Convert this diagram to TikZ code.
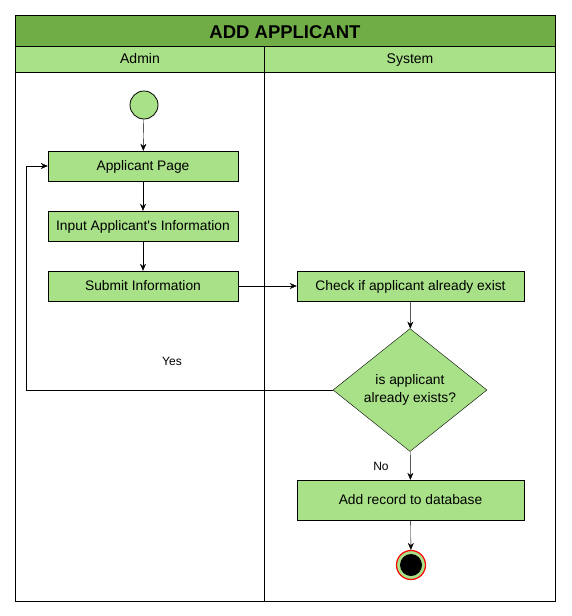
\documentclass[tikz,border=0pt]{standalone}
\usepackage{fontspec}
\setmainfont{Liberation Sans}
\usetikzlibrary{arrows.meta,shapes.geometric,positioning}

\definecolor{titlegreen}{HTML}{70AD47}
\definecolor{lightgreen}{HTML}{A9E188}

\tikzset{
  actionbox/.style={draw, fill=lightgreen, minimum width=190pt, minimum height=30pt, inner sep=1pt, text height=10pt, text depth=2pt, font=\fontsize{13.8}{16}\selectfont},
  lanelabel/.style={text height=10pt, text depth=2.5pt, font=\fontsize{14}{16}\selectfont},
  flow/.style={-{Stealth[length=7pt,width=6pt]}},
}

\begin{document}
\begin{tikzpicture}[x=1pt,y=-1pt]
  \useasboundingbox (0,0) rectangle (571,616);

  % Draw the lanes
  \filldraw[fill=titlegreen] (15,15) rectangle (555,46);
  \filldraw[fill=lightgreen] (15,46) rectangle (555,72);
  \draw (15,15) rectangle (555,601);
  \draw (264,46) -- (264,601);
  \node[font=\bfseries\fontsize{18.5}{22}\selectfont, text height=13pt, text depth=1pt] at (285,32) {ADD APPLICANT};
  \node[lanelabel] at (140,60) {Admin};
  \node[lanelabel] at (410,60) {System};

  % Draw the nodes
  \node[circle, draw, thick, fill=lightgreen, minimum size=28pt] (start) at (144,105) {};
  \node[actionbox] (page) at (143,166) {Applicant Page};
  \node[actionbox] (input) at (143,226) {Input Applicant\textquotesingle s Information};
  \node[actionbox] (submit) at (143,286) {Submit Information};
  \node[actionbox, minimum width=227pt] (check) at (410.5,286) {Check if applicant already exist};
  \node[diamond, draw, fill=lightgreen, minimum width=154pt, minimum height=116pt, inner sep=0pt, align=center, font=\fontsize{13.8}{18}\selectfont] (exists) at (410,390) {is applicant\\already exists?};
  \node[actionbox, minimum width=227pt, minimum height=40pt] (record) at (410.5,500) {Add record to database};
  \node[circle, draw=red, line width=1.2pt, fill=lightgreen, minimum size=29pt] (stop) at (411,565) {};
  \fill[black] (stop.center) circle (11pt);

  % Draw the arrows
  \draw[flow] (start) -- (page);
  \draw[flow] (page) -- (input);
  \draw[flow] (input) -- (submit);
  \draw[flow] (submit) -- (check);
  \draw[flow] (check) -- (exists);
  \draw[flow] (exists) -- (record);
  \draw[flow] (record) -- (stop);
  \draw[flow] (exists.west) -- ++(-307,0) |- (page.west);

  \node[font=\fontsize{12}{14}\selectfont] (yes) at (172,361) {Yes};
  \node[font=\fontsize{12}{14}\selectfont] (no) at (381,466) {No};

\end{tikzpicture}
\end{document}
